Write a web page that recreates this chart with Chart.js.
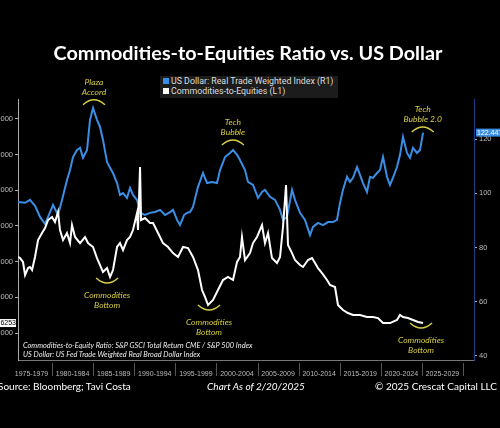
<!DOCTYPE html>
<html>
<head>
<meta charset="utf-8">
<script src="https://cdn.jsdelivr.net/npm/chart.js@4"></script>
<style>
  body { margin: 0; background: #000; width: 500px; height: 428px; overflow: hidden; position: relative; font-family: Lato, sans-serif; }
  #c { position: absolute; left: 0; top: 0; }
  .title { position: absolute; left: 0; width: 496px; top: 40px; text-align: center; color: #fff; font: bold 19.8px Lato, sans-serif; }
  .legend { position: absolute; left: 160px; top: 76px; width: 178px; height: 22px; background: #1c1c1c; font: 8.8px Roboto, sans-serif; color: #ddd; }
  .legend div { height: 10px; line-height: 10px; padding-left: 3px; white-space: nowrap; }
  .legend span { display: inline-block; width: 6px; height: 6px; margin-right: 2px; }
  .notes { position: absolute; left: 23px; top: 341px; font: italic 7.4px Lato, sans-serif; color: #eee; line-height: 9px; }
  .foot { position: absolute; top: 380px; color: #fff; font: 10px Lato, sans-serif; white-space: nowrap; }
</style>
</head>
<body>
<canvas id="c" width="500" height="428"></canvas>
<div class="title">Commodities-to-Equities Ratio vs. US Dollar</div>
<div class="legend">
  <div><span style="background:#3a8ee6"></span>US Dollar: Real Trade Weighted Index (R1)</div>
  <div><span style="background:#fff"></span>Commodities-to-Equities (L1)</div>
</div>
<div class="notes">Commodities-to-Equity Ratio: S&amp;P GSCI Total Return CME / S&amp;P 500 Index<br>US Dollar: US Fed Trade Weighted Real Broad Dollar Index</div>
<div class="foot" style="left:-2px">Source: Bloomberg; Tavi Costa</div>
<div class="foot" style="left:0;width:512px;text-align:center;font-style:italic">Chart As of 2/20/2025</div>
<div class="foot" style="right:3px">© 2025 Crescat Capital LLC</div>
<script>
// x axis bins
const xLabels = ['1975-1979', '1980-1984', '1985-1989', '1990-1994', '1995-1999', '2000-2004',
                 '2005-2009', '2010-2014', '2015-2019', '2020-2024', '2025-2029'];
const binStarts = xLabels.map(l => parseInt(l.slice(0, 4)));

// US Dollar real trade weighted index (right axis)
const usdYears = [1975.86, 1976.72, 1977.32, 1977.93, 1978.54, 1979.15, 1979.76, 1980.12, 1980.73, 1981.22,
  1981.82, 1982.19, 1982.55, 1983.04, 1983.41, 1983.77, 1984.26, 1984.62, 1984.99, 1985.47,
  1985.84, 1986.20, 1986.69, 1987.06, 1987.42, 1987.91, 1988.27, 1988.64, 1989.12, 1989.49,
  1989.85, 1990.34, 1990.71, 1991.31, 1991.92, 1992.53, 1993.14, 1993.75, 1994.36, 1994.72,
  1995.21, 1995.57, 1996.06, 1996.42, 1996.79, 1997.15, 1997.76, 1998.37, 1998.86, 1999.46,
  2000.07, 2000.44, 2001.05, 2001.65, 2002.02, 2002.51, 2002.87, 2003.48, 2003.84, 2004.45,
  2005.06, 2005.55, 2005.91, 2006.52, 2007.13, 2007.74, 2008.10, 2008.59, 2009.20, 2009.56,
  2010.17, 2010.78, 2011.39, 2011.75, 2012.36, 2012.97, 2013.58, 2014.19, 2014.67, 2015.04,
  2015.40, 2015.89, 2016.25, 2016.62, 2017.11, 2017.47, 2017.83, 2018.32, 2018.69, 2019.05,
  2019.54, 2019.90, 2020.27, 2020.75, 2021.12, 2021.48, 2021.97, 2022.34, 2022.70, 2023.19,
  2023.55, 2023.92, 2024.40, 2024.77, 2025.14];
const usdValues = [96.8, 96.5, 97.6, 95.4, 91.3, 88.7, 93.1, 95.7, 92.0, 97.6,
  104.9, 108.6, 113.4, 116.0, 116.8, 113.1, 116.0, 127.1, 131.5, 127.1,
  124.5, 119.7, 111.6, 109.4, 107.5, 103.8, 99.4, 100.1, 98.3, 102.0,
  99.4, 97.6, 92.8, 92.0, 92.8, 93.1, 93.9, 92.0, 93.1, 93.9,
  90.2, 88.3, 92.0, 92.8, 93.1, 95.0, 102.4, 107.5, 103.8, 104.2,
  103.8, 108.6, 113.4, 114.9, 116.0, 114.2, 112.3, 108.6, 104.2, 103.1,
  98.3, 100.5, 101.3, 98.7, 97.6, 93.9, 90.2, 91.3, 101.3, 97.6,
  92.8, 90.2, 84.6, 87.6, 89.1, 88.3, 89.4, 89.4, 90.2, 96.5,
  101.3, 106.1, 104.2, 105.7, 109.7, 106.8, 103.8, 100.5, 106.1, 105.7,
  107.5, 108.6, 113.4, 106.1, 103.1, 105.7, 109.7, 114.2, 120.8, 114.9,
  113.1, 116.8, 114.9, 116.0, 122.4];

// Commodities-to-equities ratio (left axis)
const ratioYears = [1975.86, 1976.11, 1976.47, 1976.72, 1977.08, 1977.32, 1977.57, 1977.93, 1978.30, 1978.78,
  1979.15, 1979.51, 1980.00, 1980.36, 1980.73, 1980.97, 1981.34, 1981.82, 1982.19, 1982.43,
  1982.80, 1983.41, 1984.01, 1984.38, 1984.99, 1985.47, 1985.84, 1986.20, 1986.69, 1987.06,
  1987.42, 1987.91, 1988.27, 1988.64, 1989.12, 1989.49, 1989.85, 1990.34, 1990.46, 1990.71,
  1990.83, 1991.31, 1991.92, 1992.29, 1992.90, 1993.50, 1994.11, 1994.72, 1995.33, 1995.94,
  1996.55, 1997.15, 1997.76, 1998.25, 1998.61, 1998.98, 1999.59, 2000.19, 2000.80, 2001.41,
  2002.02, 2002.51, 2002.87, 2003.11, 2003.48, 2004.09, 2004.45, 2004.94, 2005.55, 2005.91,
  2006.28, 2006.76, 2007.37, 2007.74, 2008.10, 2008.47, 2008.71, 2009.20, 2009.56, 2010.17,
  2010.54, 2011.14, 2011.63, 2012.00, 2012.36, 2012.85, 2013.46, 2013.82, 2014.43, 2014.79,
  2015.40, 2016.01, 2016.62, 2017.47, 2018.32, 2019.05, 2019.66, 2020.27, 2021.12, 2021.97,
  2022.34, 2022.70, 2023.31, 2023.92, 2024.53, 2025.14];
const ratioValues = [4.26, 4.20, 3.98, 3.25, 3.64, 3.70, 3.53, 4.26, 5.21, 5.60,
  5.88, 6.33, 6.50, 6.22, 6.78, 5.77, 5.21, 5.60, 5.04, 6.05,
  5.38, 5.04, 5.38, 5.04, 4.82, 4.20, 3.81, 3.42, 3.64, 3.14,
  3.53, 4.82, 5.04, 4.65, 5.21, 5.38, 5.77, 6.72, 5.77, 9.30,
  6.33, 6.44, 6.16, 6.16, 5.60, 5.04, 4.82, 4.48, 4.26, 4.82,
  4.76, 4.26, 3.53, 2.41, 2.02, 1.57, 1.85, 2.41, 2.97, 3.14,
  2.97, 3.98, 4.26, 5.38, 4.09, 4.48, 5.04, 5.38, 6.05, 5.04,
  5.60, 4.20, 3.92, 4.26, 5.94, 8.29, 4.93, 4.48, 4.09, 3.81,
  3.70, 4.09, 4.20, 3.92, 3.64, 3.36, 2.97, 2.69, 2.58, 1.57,
  1.29, 1.12, 1.01, 1.01, 0.90, 0.90, 0.84, 0.56, 0.56, 0.73,
  1.01, 0.90, 0.84, 0.73, 0.62, 0.56];

const leftTicks = [0, 2, 4, 6, 8, 10, 12];
const rightTicks = [40, 60, 80, 100, 120];
const usdTag = '122.447';
const ratioTag = '1.6253';

// call-outs, anchored on year + right-axis value
const callouts = [
  { text: ['Plaza', 'Accord'], year: 1985.1, usd: 134.5, side: 'top' },
  { text: ['Tech', 'Bubble'], year: 2002.0, usd: 119.7, side: 'top' },
  { text: ['Tech', 'Bubble 2.0'], year: 2025.1, usd: 124.5, side: 'top' },
  { text: ['Commodities', 'Bottom'], year: 1986.7, usd: 66.9, side: 'bottom' },
  { text: ['Commodities', 'Bottom'], year: 1999.1, usd: 57.0, side: 'bottom' },
  { text: ['Commodities', 'Bottom'], year: 2024.9, usd: 50.3, side: 'bottom' }
];

const BLUE = '#3a8ee6';
const YELLOW = '#d9cf45';

const overlay = {
    id: 'overlay',
    afterDraw(chart) {
        const ctx = chart.ctx;
        const x = chart.scales.x, yL = chart.scales.yL, yR = chart.scales.yR;
        const area = chart.chartArea;
        ctx.save();

        // bin separators under the axis
        ctx.strokeStyle = '#555';
        ctx.lineWidth = 1;
        binStarts.forEach(b => {
            const px = Math.round(x.getPixelForValue(b + 5)) + 0.5;
            ctx.beginPath();
            ctx.moveTo(px, area.bottom + 3);
            ctx.lineTo(px, area.bottom + 16);
            ctx.stroke();
        });

        // call-outs
        ctx.font = 'italic 8.5px Lato, sans-serif';
        ctx.textAlign = 'center';
        ctx.textBaseline = 'middle';
        callouts.forEach(c => {
            const cx = x.getPixelForValue(c.year);
            const cy = yR.getPixelForValue(c.usd);
            const s = c.side === 'top' ? -1 : 1;
            ctx.strokeStyle = YELLOW;
            ctx.lineWidth = 1.4;
            ctx.beginPath();
            ctx.moveTo(cx - 11, cy - s * 5);
            ctx.quadraticCurveTo(cx, cy + s * 5, cx + 11, cy - s * 5);
            ctx.stroke();
            ctx.fillStyle = YELLOW;
            if (s < 0) {
                ctx.fillText(c.text[0], cx, cy - 18);
                ctx.fillText(c.text[1], cx, cy - 8);
            } else {
                ctx.fillText(c.text[0], cx, cy + 12);
                ctx.fillText(c.text[1], cx, cy + 22);
            }
        });

        // last value tags
        ctx.font = '7px "Liberation Sans", sans-serif';
        ctx.textAlign = 'left';
        const ty = yR.getPixelForValue(usdValues[usdValues.length - 1]);
        ctx.fillStyle = BLUE;
        ctx.fillRect(area.right + 2, ty - 4, 30, 8);
        ctx.fillStyle = '#fff';
        ctx.fillText(usdTag, area.right + 3, ty);
        const ly = yL.getPixelForValue(ratioValues[ratioValues.length - 1]);
        ctx.fillStyle = '#fff';
        ctx.fillRect(-4, ly - 4, area.left - 2 + 4, 8);
        ctx.fillStyle = '#000';
        ctx.textAlign = 'right';
        ctx.fillText(ratioTag, area.left - 2, ly);
        ctx.restore();
    }
};

Chart.defaults.font.family = '"Liberation Sans", Arial, sans-serif';
Chart.defaults.color = '#bbb';

const ctx = document.getElementById('c').getContext('2d');
new Chart(ctx, {
    type: 'line',
    data: {
        datasets: [
            {
                label: 'Commodities-to-Equities (L1)',
                data: ratioYears.map((y, i) => ({ x: y, y: ratioValues[i] })),
                yAxisID: 'yL',
                borderColor: '#fff',
                borderWidth: 2,
                pointRadius: 0
            },
            {
                label: 'US Dollar: Real Trade Weighted Index (R1)',
                data: usdYears.map((y, i) => ({ x: y, y: usdValues[i] })),
                yAxisID: 'yR',
                borderColor: BLUE,
                borderWidth: 2,
                pointRadius: 0
            }
        ]
    },
    options: {
        responsive: false,
        animation: false,
        layout: { padding: { top: 99, bottom: 46, left: 0, right: 0 } },
        plugins: { legend: { display: false }, tooltip: { enabled: false } },
        scales: {
            x: {
                type: 'linear',
                min: 1975.86,
                max: 2031.34,
                afterBuildTicks: s => { s.ticks = binStarts.map(b => ({ value: b + 2.5 })); },
                afterFit: s => { s.height = 22; },
                ticks: {
                    autoSkip: false,
                    maxRotation: 0,
                    padding: 10,
                    font: { size: 7 },
                    color: '#bbb',
                    callback: (v) => xLabels[binStarts.indexOf(Math.round(v - 2.5))]
                },
                grid: { drawOnChartArea: false, drawTicks: false },
                border: { color: '#777' }
            },
            yL: {
                position: 'left',
                min: -1.51,
                max: 13.11,
                afterBuildTicks: s => { s.ticks = leftTicks.map(v => ({ value: v })); },
                afterFit: s => { s.width = 18; },
                ticks: { padding: 2, font: { size: 7.5 }, color: '#bbb', callback: v => v.toFixed(4) },
                grid: { drawOnChartArea: false, tickLength: 3, color: '#aaa' },
                border: { color: '#aaa' }
            },
            yR: {
                position: 'right',
                min: 38.52,
                max: 134.8,
                afterBuildTicks: s => { s.ticks = rightTicks.map(v => ({ value: v })); },
                afterFit: s => { s.width = 26; },
                ticks: { padding: 2, font: { size: 7.5 }, color: '#bbb' },
                grid: { drawOnChartArea: false, tickLength: 3, color: '#aaa' },
                border: { color: '#1d3e8a' }
            }
        }
    },
    plugins: [overlay]
});
</script>
</body>
</html>
